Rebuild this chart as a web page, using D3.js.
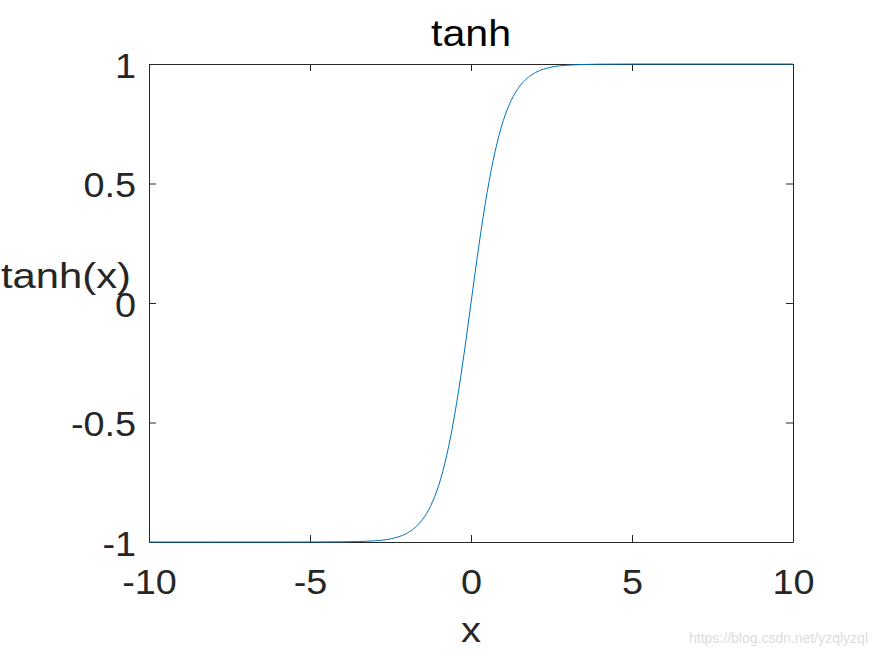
<!DOCTYPE html>
<html>
<head>
<meta charset="utf-8">
<script src="https://cdn.jsdelivr.net/npm/d3@7"></script>
<style>
  html, body { margin: 0; padding: 0; background: #fff; }
  svg { display: block; font-family: "Liberation Sans", Arial, Helvetica, sans-serif; }
</style>
</head>
<body>
<svg id="chart" width="875" height="656"></svg>
<script>
// Data
const xValues = [-10, -8, -6, -5, -4, -3.5, -3, -2.5, -2, -1.75, -1.5, -1.25, -1, -0.75, -0.5, -0.25,
                 0, 0.25, 0.5, 0.75, 1, 1.25, 1.5, 1.75, 2, 2.5, 3, 3.5, 4, 5, 6, 8, 10];
const yValues = [-1.0, -1.0, -1.0, -0.9999, -0.9993, -0.998, -0.995, -0.987, -0.964, -0.941, -0.905, -0.848, -0.762, -0.635, -0.462, -0.245,
                 0, 0.245, 0.462, 0.635, 0.762, 0.848, 0.905, 0.941, 0.964, 0.987, 0.995, 0.998, 0.9993, 0.9999, 1.0, 1.0, 1.0];
const xTicks = [-10, -5, 0, 5, 10];
const yTicks = [-1, -0.5, 0, 0.5, 1];
const titleText = "tanh";
const xLabel = "x";
const yLabel = "tanh(x)";
const watermark = "https://blog.csdn.net/yzqlyzql";

const svg = d3.select("#chart");
const L = 149, R = 793, T = 64, B = 542;
const ink = "#262626";
const fs = 35;

const x = d3.scaleLinear().domain([-10, 10]).range([L, R]);
const y = d3.scaleLinear().domain([-1, 1]).range([B, T]);

const fmt = d => String(d);

function stretch(sel, k) {
  sel.each(function () {
    const w = this.getComputedTextLength();
    d3.select(this).attr("textLength", w * k).attr("lengthAdjust", "spacingAndGlyphs");
  });
}

// bottom axis
const gB = svg.append("g").attr("transform", `translate(0,${B})`)
  .call(d3.axisBottom(x).tickValues(xTicks).tickSizeInner(-7).tickSizeOuter(0).tickPadding(27).tickFormat(fmt));
// left axis
const gL = svg.append("g").attr("transform", `translate(${L},0)`)
  .call(d3.axisLeft(y).tickValues(yTicks).tickSizeInner(-7).tickSizeOuter(0).tickPadding(13).tickFormat(fmt));
// top axis (ticks only)
const gT = svg.append("g").attr("transform", `translate(0,${T})`)
  .call(d3.axisTop(x).tickValues(xTicks).tickSizeInner(-7).tickSizeOuter(0).tickFormat(""));
// right axis (ticks only)
const gR = svg.append("g").attr("transform", `translate(${R},0)`)
  .call(d3.axisRight(y).tickValues(yTicks).tickSizeInner(-7).tickSizeOuter(0).tickFormat(""));

[gB, gL, gT, gR].forEach(g => {
  g.selectAll(".domain").attr("stroke", ink).attr("stroke-width", 1);
  g.selectAll(".tick line").attr("stroke", ink).attr("stroke-width", 1);
  g.selectAll(".tick text").attr("fill", ink).attr("font-size", fs)
    .attr("font-family", "Liberation Sans, Arial, sans-serif");
});
gL.selectAll(".tick text").attr("dy", "0.38em");
stretch(gB.selectAll(".tick text"), 1.08);
stretch(gL.selectAll(".tick text"), 1.08);

// curve
const line = d3.line().x((d, i) => x(xValues[i])).y(d => y(d)).curve(d3.curveMonotoneX);
svg.append("path").datum(yValues)
  .attr("d", line)
  .attr("fill", "none")
  .attr("stroke", "#0072BD")
  .attr("stroke-width", 1);

// title
svg.append("text").attr("x", 471).attr("y", 46)
  .attr("text-anchor", "middle").attr("font-size", 36).attr("fill", "#000")
  .attr("textLength", 80).attr("lengthAdjust", "spacingAndGlyphs")
  .text(titleText);

// x label
svg.append("text").attr("x", 471).attr("y", 642)
  .attr("text-anchor", "middle").attr("font-size", fs).attr("fill", ink)
  .attr("textLength", 20).attr("lengthAdjust", "spacingAndGlyphs")
  .text(xLabel);

// y label (horizontal)
svg.append("text").attr("x", 1).attr("y", 288)
  .attr("text-anchor", "start").attr("font-size", fs).attr("fill", ink)
  .attr("textLength", 130).attr("lengthAdjust", "spacingAndGlyphs")
  .text(yLabel);

// watermark
svg.append("text").attr("x", 868).attr("y", 643)
  .attr("text-anchor", "end").attr("font-size", 14).attr("fill", "#dcdcdc")
  .text(watermark);
</script>
</body>
</html>
